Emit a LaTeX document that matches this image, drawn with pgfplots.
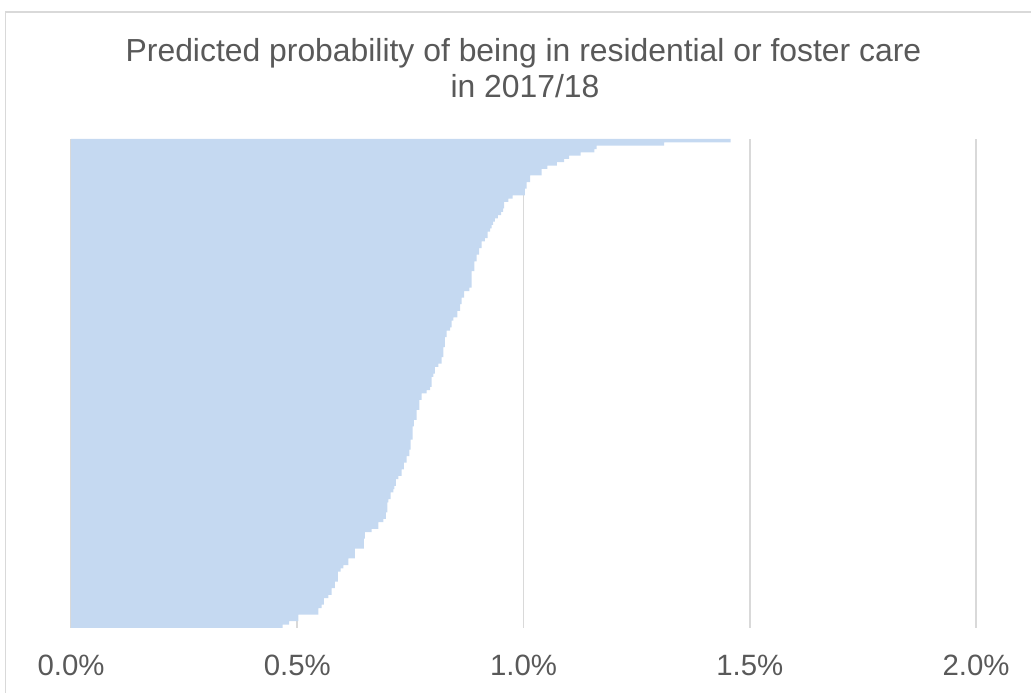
\documentclass[border=0pt]{standalone}
\usepackage{pgfplots}
\pgfplotsset{compat=1.18}
\usepackage{fontspec}
\setmainfont{Liberation Sans}
\definecolor{barblue}{RGB}{197,217,241}
\definecolor{txtgray}{RGB}{89,89,89}
\definecolor{gridgray}{RGB}{217,217,217}
\begin{document}
\begin{tikzpicture}
\useasboundingbox (0,0) rectangle (1031bp,693bp);
\draw[gridgray, line width=1.5bp] (5.5bp,0) -- (5.5bp,681bp) -- (1031bp,681bp);
\begin{axis}[
  at={(71bp,65.3bp)}, anchor=south west,
  scale only axis, width=905bp, height=488.7bp,
  xmin=0, xmax=2, ymin=0.5, ymax=148.5,
  xbar, bar width=1.08,
  xtick={0,0.5,1,1.5,2},
  xticklabels={0.0\%,0.5\%,1.0\%,1.5\%,2.0\%},
  ytick=\empty,
  xmajorgrids,
  grid style={gridgray, line width=1.8bp},
  axis line style={draw=none},
  major tick length=0pt,
  xticklabel style={font=\fontsize{29.5}{33}\selectfont, text=txtgray, anchor=base, yshift=-47.3bp},
  clip=false,
]
\addplot[draw=none, fill=barblue] coordinates {
(0.4678,1) (0.4818,2) (0.5023,3) (0.5023,4) (0.5465,5) (0.5465,6) (0.5540,7) (0.5591,8) (0.5591,9) (0.5686,10)
(0.5761,11) (0.5761,12) (0.5834,13) (0.5834,14) (0.5896,15) (0.5896,16) (0.5896,17) (0.5960,18) (0.6018,19) (0.6128,20)
(0.6128,21) (0.6276,22) (0.6276,23) (0.6276,24) (0.6475,25) (0.6475,26) (0.6475,27) (0.6497,28) (0.6497,29) (0.6645,30)
(0.6791,31) (0.6791,32) (0.6902,33) (0.6961,34) (0.6961,35) (0.6990,36) (0.6990,37) (0.6990,38) (0.7012,39) (0.7061,40)
(0.7061,41) (0.7123,42) (0.7145,43) (0.7182,44) (0.7182,45) (0.7233,46) (0.7308,47) (0.7308,48) (0.7359,49) (0.7359,50)
(0.7419,51) (0.7419,52) (0.7476,53) (0.7476,54) (0.7507,55) (0.7507,56) (0.7507,57) (0.7551,58) (0.7551,59) (0.7551,60)
(0.7551,61) (0.7580,62) (0.7580,63) (0.7640,64) (0.7640,65) (0.7640,66) (0.7697,67) (0.7697,68) (0.7697,69) (0.7750,70)
(0.7750,71) (0.7861,72) (0.7934,73) (0.7971,74) (0.7971,75) (0.7971,76) (0.8007,77) (0.8044,78) (0.8044,79) (0.8117,80)
(0.8192,81) (0.8192,82) (0.8228,83) (0.8228,84) (0.8228,85) (0.8265,86) (0.8265,87) (0.8265,88) (0.8303,89) (0.8303,90)
(0.8376,91) (0.8413,92) (0.8413,93) (0.8449,94) (0.8537,95) (0.8537,96) (0.8597,97) (0.8597,98) (0.8634,99) (0.8634,100)
(0.8685,101) (0.8685,102) (0.8802,103) (0.8855,104) (0.8855,105) (0.8855,106) (0.8855,107) (0.8855,108) (0.8913,109) (0.8913,110)
(0.8913,111) (0.8966,112) (0.8966,113) (0.9017,114) (0.9017,115) (0.9076,116) (0.9076,117) (0.9149,118) (0.9209,119) (0.9209,120)
(0.9260,121) (0.9293,122) (0.9326,123) (0.9370,124) (0.9436,125) (0.9503,126) (0.9547,127) (0.9569,128) (0.9569,129) (0.9664,130)
(0.9761,131) (1.0033,132) (1.0033,133) (1.0071,134) (1.0071,135) (1.0144,136) (1.0144,137) (1.0402,138) (1.0402,139) (1.0526,140)
(1.0740,141) (1.0895,142) (1.1006,143) (1.1264,144) (1.1565,145) (1.1618,146) (1.3105,147) (1.4579,148)
};
\end{axis}
\node[anchor=base, text=txtgray, font=\fontsize{32}{38}\selectfont] at (523.5bp,631.3bp) {Predicted probability of being in residential or foster care};
\node[anchor=base, text=txtgray, font=\fontsize{32}{38}\selectfont] at (525bp,595bp) {in 2017/18};
\end{tikzpicture}
\end{document}
